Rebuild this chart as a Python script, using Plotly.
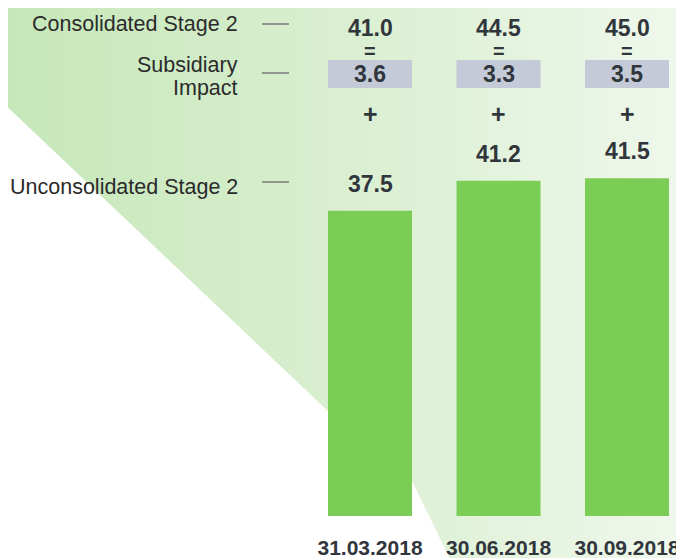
import plotly.graph_objects as go

# ---- data ----
dates = ["31.03.2018", "30.06.2018", "30.09.2018"]
unconsolidated = [37.5, 41.2, 41.5]
subsidiary = [3.6, 3.3, 3.5]
consolidated = [41.0, 44.5, 45.0]
row_labels = ["Consolidated Stage 2", "Subsidiary", "Impact", "Unconsolidated Stage 2"]

W, H = 684, 558
OFF = 8  # page body margin: figure is drawn at (8, 8) of the window
FONT = "Liberation Sans, Arial, sans-serif"
TXT = "#2b2b2b"
VAL = "#31363c"
BAR = "#7bcd55"
BOX = "#c4cad8"

# geometry in window pixels
px_per_unit = 8.14
zero_px = 516
axis_px = 533
c0_px, step_px = 370.0, 128.5
bar_w = 84 / step_px

fig = go.Figure()

# background gradient polygon (pixel-space subplot, drawn first)
bg_x = [0, 700, 700, 470, 413, 330, 0, 0]
bg_y = [0, 0, 600, 600, 483, 413, 100, 0]
fig.add_trace(go.Scatter(
    x=bg_x, y=bg_y, mode="lines", fill="toself", line=dict(width=0),
    fillgradient=dict(type="horizontal",
                      colorscale=[[0, "rgb(197,231,184)"], [0.5, "rgb(218,239,209)"], [1, "rgb(240,248,237)"]]),
    hoverinfo="skip", showlegend=False, xaxis="x", yaxis="y"))

# bars
fig.add_trace(go.Bar(
    x=dates, y=unconsolidated, width=bar_w, marker=dict(color=BAR, line=dict(width=0)),
    xaxis="x2", yaxis="y2", showlegend=False, hoverinfo="skip"))

d0 = (H - (axis_px - OFF)) / H
ymin = (zero_px - axis_px) / px_per_unit
ymax = (zero_px - OFF) / px_per_unit
xmin = (OFF - c0_px) / step_px
xmax = (OFF + W - c0_px) / step_px

annotations = []
shapes = []

VFONT = dict(family=FONT, size=23, color=VAL, weight=700)

# value labels above bars
for d, v in zip(dates, unconsolidated):
    annotations.append(dict(x=d, y=v, xref="x2", yref="y2", text=f"{v:.1f}", showarrow=False,
                            yanchor="middle", yshift=27, font=VFONT))

# consolidated / = / subsidiary boxes / +
for i, (d, c, s) in enumerate(zip(dates, consolidated, subsidiary)):
    annotations.append(dict(x=d, y=28, xref="x2", yref="y", text=f"{c:.1f}", showarrow=False,
                            yanchor="middle", font=VFONT, height=24))
    annotations.append(dict(x=d, y=51, xref="x2", yref="y", text="=", showarrow=False,
                            yanchor="middle", font=dict(family=FONT, size=20, color=VAL, weight=700),
                            height=16))
    annotations.append(dict(x=d, y=74, xref="x2", yref="y", text=f"{s:.1f}", showarrow=False,
                            yanchor="middle", font=VFONT, height=24))
    annotations.append(dict(x=d, y=114, xref="x2", yref="y", text="+", showarrow=False,
                            yanchor="middle", font=dict(family=FONT, size=25, color=VAL, weight=700)))
    shapes.append(dict(type="rect", xref="x2", yref="y", x0=i - bar_w / 2, x1=i + bar_w / 2,
                       y0=60, y1=88, fillcolor=BOX, line=dict(width=0), layer="above"))

# left row labels with leader dashes
label_y = [24, 65, 88, 187]
for t, yy in zip(row_labels, label_y):
    annotations.append(dict(x=240, y=yy, xref="x", yref="y", text=t, showarrow=False,
                            xanchor="right", yanchor="middle",
                            font=dict(family=FONT, size=21.5, color=TXT)))
for yy in [24, 73, 182]:
    shapes.append(dict(type="line", xref="x", yref="y", x0=262, x1=289, y0=yy, y1=yy,
                       line=dict(color="#7a7a7a", width=1.5)))

fig.update_layout(
    width=W, height=H,
    margin=dict(l=0, r=0, t=0, b=0, autoexpand=False),
    paper_bgcolor="white", plot_bgcolor="rgba(0,0,0,0)",
    showlegend=False,
    xaxis=dict(domain=[0, 1], range=[OFF, OFF + W], visible=False, fixedrange=True),
    yaxis=dict(domain=[0, 1], range=[OFF + H, OFF], visible=False, fixedrange=True),
    xaxis2=dict(domain=[0, 1], anchor="y2", range=[xmin, xmax], type="category",
                showgrid=False, zeroline=False, showline=False, ticks="",
                tickangle=0, automargin=False,
                tickfont=dict(family=FONT, size=21, color=VAL, weight=700)),
    yaxis2=dict(domain=[d0, 1], anchor="x2", range=[ymin, ymax], visible=False,
                showgrid=False, zeroline=False, automargin=False),
    annotations=annotations,
    shapes=shapes,
)

fig.write_html("out.html")
